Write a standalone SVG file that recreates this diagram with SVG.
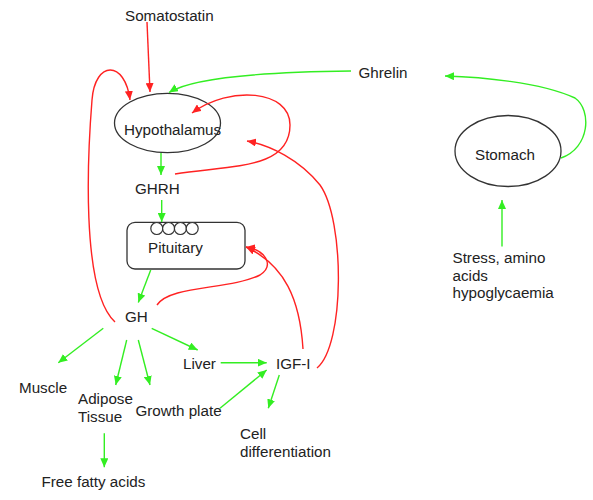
<svg xmlns="http://www.w3.org/2000/svg" width="593" height="500" viewBox="0 0 593 500">
<style>
text{font-family:"Liberation Sans",Arial,sans-serif;font-size:15.2px;fill:#222}
.g{stroke:#33ee22;stroke-width:1.4;fill:none;marker-end:url(#ag)}
.r{stroke:#ff2222;stroke-width:1.4;fill:none;marker-end:url(#ar)}
.node{fill:#fff;stroke:#333;stroke-width:1.3}
</style>
<defs>
<marker id="ag" viewBox="0 0 9 8" refX="9" refY="4" markerWidth="9" markerHeight="8" markerUnits="userSpaceOnUse" orient="auto"><path d="M0,0 L9,4 L0,8 z" fill="#33ee22"/></marker>
<marker id="ar" viewBox="0 0 9 8" refX="9" refY="4" markerWidth="9" markerHeight="8" markerUnits="userSpaceOnUse" orient="auto"><path d="M0,0 L9,4 L0,8 z" fill="#ff2222"/></marker>
</defs>
<rect width="593" height="500" fill="#fff"/>
<g id="hypothalamus"><ellipse class="node" cx="167.5" cy="123" rx="53" ry="29.7"/><text x="124" y="135">Hypothalamus</text></g>
<g id="stomach"><ellipse class="node" cx="508" cy="151" rx="53" ry="35.5"/><text x="475" y="160">Stomach</text></g>
<g id="pituitary"><rect class="node" x="127" y="222.3" width="118" height="46.7" rx="8"/>
<g fill="#fff" stroke="#333" stroke-width="1.2"><circle cx="156.8" cy="228.5" r="6"/><circle cx="168.6" cy="228.5" r="6"/><circle cx="180.4" cy="228.5" r="6"/><circle cx="192.2" cy="228.5" r="6"/></g>
<text x="148" y="252.5">Pituitary</text></g>
<g id="somatostatin"><text x="125" y="20.5">Somatostatin</text></g>
<g id="ghrelin"><text x="358.5" y="78">Ghrelin</text></g>
<g id="ghrh"><text x="135" y="194">GHRH</text></g>
<g id="gh"><text x="125" y="322">GH</text></g>
<g id="liver"><text x="183" y="369">Liver</text></g>
<g id="igf"><text x="276" y="369">IGF-I</text></g>
<g id="muscle"><text x="19" y="392.5">Muscle</text></g>
<g id="adipose"><text x="78" y="404">Adipose</text><text x="78" y="421.5">Tissue</text></g>
<g id="growth"><text x="135.5" y="415.5">Growth plate</text></g>
<g id="cell"><text x="240" y="439">Cell</text><text x="240" y="456.5">differentiation</text></g>
<g id="ffa"><text x="41.5" y="486.5">Free fatty acids</text></g>
<g id="stress"><text x="452.5" y="263">Stress, amino</text><text x="452.5" y="280.5">acids</text><text x="452.5" y="298">hypoglycaemia</text></g>
<g id="connectors">
<path class="r" d="M147,22 L150,92"/>
<path class="r" d="M115,322 C80,290 88,150 92,100 C95,60 125,60 130,100"/>
<path class="g" d="M351,71 C260,72 192,78 169,92.5"/>
<path class="g" d="M561,158 C590,148 592,110 575,98 C540,82 480,77 445,76"/>
<path class="g" d="M502,246.5 L502,200"/>
<path class="g" d="M161,153 L161,175"/>
<path class="r" d="M175,174 C230,165 290,170 290,125 C290,90 230,85 192,113"/>
<path class="r" d="M317,368 C345,345 345,220 320,185 C300,160 270,145 247,141"/>
<path class="g" d="M161.7,200 L161.7,222"/>
<path class="g" d="M150.7,270 L138.3,302.5"/>
<path class="r" d="M157,305 C170,285 230,290 260,275 C275,265 265,250 246,247"/>
<path class="r" d="M303,349 C300,300 285,265 246,247"/>
<path class="g" d="M151.7,328.3 L197.7,350"/>
<path class="g" d="M220.7,362.7 L266.7,362.7"/>
<path class="g" d="M103.3,328.3 L58.3,362.7"/>
<path class="g" d="M126.7,340 L115.7,385"/>
<path class="g" d="M138.3,340 L150,385"/>
<path class="g" d="M220,408.3 L266.7,370"/>
<path class="g" d="M279.3,375 L268.3,408.3"/>
<path class="g" d="M104.3,433.3 L104.3,467.3"/>
</g>
</svg>
